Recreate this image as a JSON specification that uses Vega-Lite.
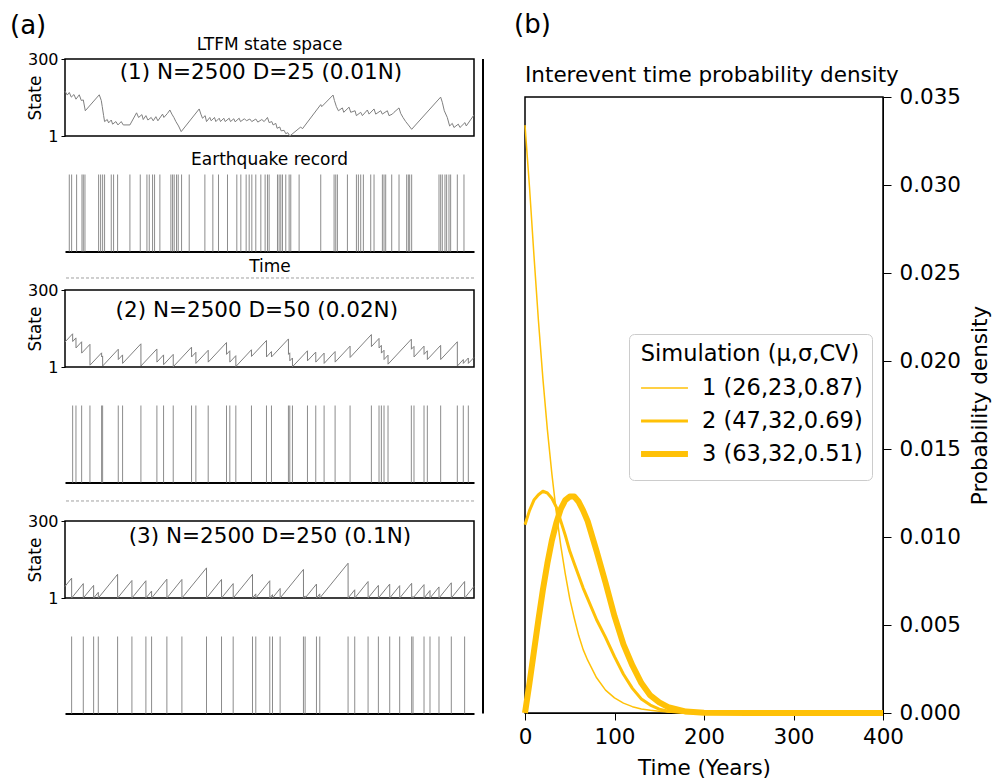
{
"$schema": "https://vega.github.io/schema/vega-lite/v6.json",
"padding": {"left": 10, "top": 12, "right": 0, "bottom": 0},
"background": "white",
"config": {
  "font": "DejaVu Sans",
  "view": {"stroke": "black", "strokeWidth": 1.5},
  "axis": {"grid": false, "domainColor": "black", "tickColor": "black", "labelColor": "black", "titleColor": "black", "titleFontWeight": "normal", "labelFlush": false, "labelOverlap": false},
  "title": {"fontWeight": "normal", "color": "black"}
},
"datasets": {
  "s1": [{"t":0,"v":175},{"t":5.6,"v":160},{"t":10.5,"v":170},{"t":15.4,"v":152},{"t":21.9,"v":162},{"t":26.8,"v":144},{"t":34.9,"v":161},{"t":39.8,"v":139},{"t":44.7,"v":141},{"t":49.6,"v":99},{"t":83.8,"v":161},{"t":88.7,"v":139},{"t":91.1,"v":115},{"t":94.4,"v":80},{"t":96.8,"v":57},{"t":103.3,"v":65},{"t":106.6,"v":52},{"t":113.1,"v":63},{"t":116.4,"v":47},{"t":124.5,"v":57},{"t":129.4,"v":44},{"t":137.5,"v":57},{"t":142.4,"v":44},{"t":158.7,"v":44},{"t":175,"v":91},{"t":179.9,"v":73},{"t":188,"v":84},{"t":191.3,"v":65},{"t":197.8,"v":80},{"t":202.7,"v":63},{"t":210.8,"v":73},{"t":215.7,"v":60},{"t":222.2,"v":76},{"t":227.1,"v":60},{"t":238.5,"v":86},{"t":241.8,"v":73},{"t":250.7,"v":89},{"t":256.4,"v":102},{"t":261.3,"v":86},{"t":266.2,"v":73},{"t":271.1,"v":57},{"t":277.6,"v":40},{"t":284.1,"v":18},{"t":328.1,"v":106},{"t":332.2,"v":86},{"t":336.2,"v":70},{"t":342.7,"v":80},{"t":346,"v":57},{"t":354.1,"v":73},{"t":357.4,"v":60},{"t":365.5,"v":73},{"t":368.8,"v":57},{"t":377,"v":70},{"t":380.2,"v":57},{"t":388.3,"v":70},{"t":391.6,"v":57},{"t":401.4,"v":70},{"t":404.6,"v":57},{"t":412.8,"v":68},{"t":416,"v":56},{"t":425.8,"v":70},{"t":429.1,"v":57},{"t":438.8,"v":68},{"t":443.7,"v":60},{"t":451.9,"v":67},{"t":456.7,"v":57},{"t":466.5,"v":67},{"t":471.4,"v":55},{"t":481.2,"v":65},{"t":486.9,"v":57},{"t":495,"v":73},{"t":499.1,"v":53},{"t":505.6,"v":57},{"t":508.9,"v":44},{"t":515.4,"v":50},{"t":518.6,"v":31},{"t":525.1,"v":36},{"t":528.4,"v":21},{"t":535.7,"v":23},{"t":539.8,"v":10},{"t":544.7,"v":14},{"t":549.6,"v":1},{"t":576.4,"v":36},{"t":580.5,"v":29},{"t":625.3,"v":123},{"t":627.7,"v":115},{"t":655.4,"v":160},{"t":658.7,"v":139},{"t":663.6,"v":115},{"t":668.5,"v":99},{"t":678.2,"v":110},{"t":681.5,"v":93},{"t":694.5,"v":113},{"t":698.6,"v":93},{"t":709.2,"v":99},{"t":712.4,"v":80},{"t":723,"v":93},{"t":727.1,"v":80},{"t":739.3,"v":102},{"t":743.4,"v":86},{"t":755.6,"v":106},{"t":759.7,"v":86},{"t":771.9,"v":99},{"t":775.9,"v":86},{"t":788.2,"v":99},{"t":792.2,"v":80},{"t":800.4,"v":86},{"t":804.4,"v":93},{"t":816.7,"v":110},{"t":820.7,"v":89},{"t":826.4,"v":73},{"t":833,"v":57},{"t":839.5,"v":44},{"t":847.6,"v":27},{"t":918.4,"v":152},{"t":922.5,"v":132},{"t":927.4,"v":99},{"t":934.7,"v":73},{"t":940.4,"v":40},{"t":946.9,"v":50},{"t":951,"v":34},{"t":961.6,"v":47},{"t":965.7,"v":34},{"t":977.9,"v":53},{"t":981.1,"v":40},{"t":1000,"v":83}],
  "s2": [{"t":0,"v":98},{"t":18.7,"v":130},{"t":18.8,"v":100},{"t":26.8,"v":114},{"t":26.9,"v":75},{"t":40.7,"v":99},{"t":40.8,"v":55},{"t":61,"v":89},{"t":61.1,"v":8},{"t":89.5,"v":56},{"t":89.6,"v":40},{"t":92,"v":44},{"t":92.1,"v":5},{"t":130.2,"v":70},{"t":130.3,"v":30},{"t":140.8,"v":48},{"t":140.9,"v":15},{"t":185.6,"v":91},{"t":185.7,"v":5},{"t":224.7,"v":71},{"t":224.8,"v":20},{"t":241,"v":48},{"t":241.1,"v":10},{"t":264.6,"v":50},{"t":264.7,"v":2},{"t":309.4,"v":78},{"t":309.5,"v":40},{"t":320,"v":58},{"t":320.1,"v":15},{"t":350.1,"v":66},{"t":350.2,"v":20},{"t":394.9,"v":96},{"t":395,"v":50},{"t":403,"v":64},{"t":403.1,"v":20},{"t":417.7,"v":45},{"t":417.8,"v":3},{"t":455.9,"v":68},{"t":456,"v":42},{"t":492.6,"v":104},{"t":492.7,"v":40},{"t":504.8,"v":61},{"t":504.9,"v":40},{"t":546.3,"v":110},{"t":546.4,"v":50},{"t":549.6,"v":56},{"t":549.7,"v":25},{"t":556.1,"v":36},{"t":556.2,"v":2},{"t":592.8,"v":64},{"t":592.9,"v":25},{"t":613.1,"v":59},{"t":613.2,"v":20},{"t":633.5,"v":55},{"t":633.6,"v":15},{"t":660.4,"v":61},{"t":660.5,"v":20},{"t":697,"v":82},{"t":697.1,"v":38},{"t":749.1,"v":127},{"t":749.2,"v":80},{"t":767.8,"v":112},{"t":767.9,"v":75},{"t":773.5,"v":85},{"t":773.6,"v":55},{"t":780,"v":66},{"t":780.1,"v":30},{"t":789.8,"v":47},{"t":789.9,"v":12},{"t":846.8,"v":109},{"t":846.9,"v":70},{"t":853.3,"v":81},{"t":853.4,"v":40},{"t":877.8,"v":82},{"t":877.9,"v":50},{"t":885.9,"v":64},{"t":886,"v":30},{"t":918.5,"v":85},{"t":918.6,"v":30},{"t":959.2,"v":99},{"t":959.3,"v":5},{"t":973.8,"v":30},{"t":973.9,"v":15},{"t":986.1,"v":36},{"t":986.2,"v":15},{"t":1000,"v":38}],
  "s3": [{"t":0,"v":46},{"t":16.2,"v":78},{"t":16.3,"v":1},{"t":44.7,"v":57},{"t":44.8,"v":1},{"t":70,"v":50},{"t":70.1,"v":1},{"t":81.4,"v":23},{"t":81.5,"v":1},{"t":128.6,"v":93},{"t":128.7,"v":1},{"t":163.6,"v":69},{"t":163.7,"v":1},{"t":197.8,"v":68},{"t":197.9,"v":1},{"t":211.7,"v":28},{"t":211.8,"v":1},{"t":249.1,"v":74},{"t":249.2,"v":1},{"t":285.8,"v":73},{"t":285.9,"v":1},{"t":346,"v":118},{"t":346.1,"v":1},{"t":382.7,"v":73},{"t":382.8,"v":1},{"t":411.2,"v":57},{"t":411.3,"v":1},{"t":458.4,"v":93},{"t":458.5,"v":1},{"t":466.5,"v":17},{"t":466.6,"v":1},{"t":500.7,"v":68},{"t":500.8,"v":1},{"t":507.3,"v":14},{"t":507.4,"v":1},{"t":526,"v":38},{"t":526.1,"v":1},{"t":583,"v":112},{"t":583.1,"v":1},{"t":587.1,"v":9},{"t":587.2,"v":1},{"t":614.8,"v":55},{"t":614.9,"v":1},{"t":622.9,"v":17},{"t":623,"v":1},{"t":692.1,"v":136},{"t":692.2,"v":1},{"t":708.4,"v":33},{"t":708.5,"v":1},{"t":741,"v":65},{"t":741.1,"v":1},{"t":766.2,"v":50},{"t":766.3,"v":1},{"t":793.9,"v":55},{"t":794,"v":1},{"t":818.3,"v":49},{"t":818.4,"v":1},{"t":847.6,"v":58},{"t":847.7,"v":1},{"t":850.9,"v":7},{"t":851,"v":1},{"t":877.8,"v":53},{"t":877.9,"v":1},{"t":892.4,"v":30},{"t":892.5,"v":1},{"t":914.4,"v":44},{"t":914.5,"v":1},{"t":944.5,"v":60},{"t":944.6,"v":1},{"t":977.1,"v":65},{"t":977.2,"v":1},{"t":1000,"v":46}],
  "e1": [{"t":10.5},{"t":16.2},{"t":28.4},{"t":41.5},{"t":44.7},{"t":48.8},{"t":82.2},{"t":87.1},{"t":92},{"t":96.8},{"t":113.1},{"t":118.8},{"t":128.6},{"t":158.7},{"t":184},{"t":200.3},{"t":206},{"t":214.1},{"t":219},{"t":232},{"t":258.9},{"t":263},{"t":267},{"t":272.7},{"t":276.8},{"t":285},{"t":303.7},{"t":342},{"t":361.5},{"t":375.3},{"t":397.3},{"t":420.1},{"t":429.9},{"t":442.9},{"t":450.3},{"t":456.8},{"t":466.5},{"t":478.8},{"t":489.3},{"t":495},{"t":499.1},{"t":519.5},{"t":523.5},{"t":527.6},{"t":531.7},{"t":539.8},{"t":548},{"t":552},{"t":572.4},{"t":625.3},{"t":657.9},{"t":662},{"t":666},{"t":690.5},{"t":712.5},{"t":717.3},{"t":723},{"t":729.5},{"t":747.5},{"t":755.6},{"t":776},{"t":780},{"t":784.1},{"t":798.8},{"t":816.7},{"t":835.4},{"t":839.5},{"t":842.7},{"t":847.6},{"t":914.4},{"t":918.5},{"t":922.5},{"t":929},{"t":933.1},{"t":938.8},{"t":942.9},{"t":959.2},{"t":975.5}],
  "e2": [{"t":18.7},{"t":26.8},{"t":40.7},{"t":61},{"t":89.5},{"t":92},{"t":130.2},{"t":140.8},{"t":185.6},{"t":224.7},{"t":241},{"t":264.6},{"t":309.4},{"t":320},{"t":350.1},{"t":394.9},{"t":403},{"t":417.7},{"t":455.9},{"t":492.6},{"t":504.8},{"t":546.3},{"t":549.6},{"t":556.1},{"t":592.8},{"t":613.1},{"t":633.5},{"t":660.4},{"t":697},{"t":749.1},{"t":767.8},{"t":773.5},{"t":780},{"t":789.8},{"t":846.8},{"t":853.3},{"t":877.8},{"t":885.9},{"t":918.5},{"t":959.2},{"t":973.8},{"t":986.1}],
  "e3": [{"t":16.2},{"t":44.7},{"t":70},{"t":81.4},{"t":128.6},{"t":163.6},{"t":197.8},{"t":211.7},{"t":249.1},{"t":285.8},{"t":346},{"t":382.7},{"t":411.2},{"t":458.4},{"t":466.5},{"t":500.7},{"t":507.3},{"t":526},{"t":583},{"t":587.1},{"t":614.8},{"t":622.9},{"t":692.1},{"t":708.4},{"t":741},{"t":766.2},{"t":793.9},{"t":818.3},{"t":847.6},{"t":850.9},{"t":877.8},{"t":892.4},{"t":914.4},{"t":944.5},{"t":977.1}],
  "pdf": [
    {"s":"1 (26,23,0.87)","t":0,"d":0.0334},{"s":"1 (26,23,0.87)","t":5,"d":0.0299},{"s":"1 (26,23,0.87)","t":10,"d":0.0260},{"s":"1 (26,23,0.87)","t":15,"d":0.0223},{"s":"1 (26,23,0.87)","t":20,"d":0.0190},{"s":"1 (26,23,0.87)","t":25,"d":0.0161},{"s":"1 (26,23,0.87)","t":30,"d":0.0136},{"s":"1 (26,23,0.87)","t":35,"d":0.0114},{"s":"1 (26,23,0.87)","t":40,"d":0.0095},{"s":"1 (26,23,0.87)","t":45,"d":0.0079},{"s":"1 (26,23,0.87)","t":50,"d":0.0065},{"s":"1 (26,23,0.87)","t":55,"d":0.0054},{"s":"1 (26,23,0.87)","t":60,"d":0.0044},{"s":"1 (26,23,0.87)","t":65,"d":0.0036},{"s":"1 (26,23,0.87)","t":70,"d":0.0030},{"s":"1 (26,23,0.87)","t":80,"d":0.0020},{"s":"1 (26,23,0.87)","t":90,"d":0.0013},{"s":"1 (26,23,0.87)","t":100,"d":0.00086},{"s":"1 (26,23,0.87)","t":110,"d":0.00056},{"s":"1 (26,23,0.87)","t":120,"d":0.00036},{"s":"1 (26,23,0.87)","t":130,"d":0.00023},{"s":"1 (26,23,0.87)","t":140,"d":0.00015},{"s":"1 (26,23,0.87)","t":150,"d":0.0001},{"s":"1 (26,23,0.87)","t":160,"d":0.00006},{"s":"1 (26,23,0.87)","t":180,"d":0.00002},{"s":"1 (26,23,0.87)","t":200,"d":0.00001},{"s":"1 (26,23,0.87)","t":250,"d":0},{"s":"1 (26,23,0.87)","t":300,"d":0},{"s":"1 (26,23,0.87)","t":400,"d":0},
    {"s":"2 (47,32,0.69)","t":0,"d":0.0107},{"s":"2 (47,32,0.69)","t":5,"d":0.0115},{"s":"2 (47,32,0.69)","t":10,"d":0.0121},{"s":"2 (47,32,0.69)","t":15,"d":0.0124},{"s":"2 (47,32,0.69)","t":20,"d":0.0126},{"s":"2 (47,32,0.69)","t":25,"d":0.0125},{"s":"2 (47,32,0.69)","t":30,"d":0.0122},{"s":"2 (47,32,0.69)","t":35,"d":0.0117},{"s":"2 (47,32,0.69)","t":40,"d":0.0109},{"s":"2 (47,32,0.69)","t":45,"d":0.0101},{"s":"2 (47,32,0.69)","t":50,"d":0.0092},{"s":"2 (47,32,0.69)","t":55,"d":0.0085},{"s":"2 (47,32,0.69)","t":60,"d":0.0078},{"s":"2 (47,32,0.69)","t":65,"d":0.0071},{"s":"2 (47,32,0.69)","t":70,"d":0.0065},{"s":"2 (47,32,0.69)","t":80,"d":0.0053},{"s":"2 (47,32,0.69)","t":90,"d":0.0043},{"s":"2 (47,32,0.69)","t":100,"d":0.0032},{"s":"2 (47,32,0.69)","t":110,"d":0.0022},{"s":"2 (47,32,0.69)","t":120,"d":0.0014},{"s":"2 (47,32,0.69)","t":130,"d":0.0008},{"s":"2 (47,32,0.69)","t":140,"d":0.00045},{"s":"2 (47,32,0.69)","t":150,"d":0.00022},{"s":"2 (47,32,0.69)","t":160,"d":0.0001},{"s":"2 (47,32,0.69)","t":180,"d":0.00002},{"s":"2 (47,32,0.69)","t":200,"d":0},{"s":"2 (47,32,0.69)","t":250,"d":0},{"s":"2 (47,32,0.69)","t":300,"d":0},{"s":"2 (47,32,0.69)","t":400,"d":0},
    {"s":"3 (63,32,0.51)","t":0,"d":0},{"s":"3 (63,32,0.51)","t":5,"d":0.0017},{"s":"3 (63,32,0.51)","t":10,"d":0.0035},{"s":"3 (63,32,0.51)","t":15,"d":0.0053},{"s":"3 (63,32,0.51)","t":20,"d":0.0070},{"s":"3 (63,32,0.51)","t":25,"d":0.0085},{"s":"3 (63,32,0.51)","t":30,"d":0.0098},{"s":"3 (63,32,0.51)","t":35,"d":0.0108},{"s":"3 (63,32,0.51)","t":40,"d":0.0116},{"s":"3 (63,32,0.51)","t":45,"d":0.0121},{"s":"3 (63,32,0.51)","t":50,"d":0.0123},{"s":"3 (63,32,0.51)","t":55,"d":0.0123},{"s":"3 (63,32,0.51)","t":60,"d":0.0120},{"s":"3 (63,32,0.51)","t":65,"d":0.0115},{"s":"3 (63,32,0.51)","t":70,"d":0.0109},{"s":"3 (63,32,0.51)","t":80,"d":0.0092},{"s":"3 (63,32,0.51)","t":90,"d":0.0074},{"s":"3 (63,32,0.51)","t":100,"d":0.0055},{"s":"3 (63,32,0.51)","t":110,"d":0.0039},{"s":"3 (63,32,0.51)","t":120,"d":0.0027},{"s":"3 (63,32,0.51)","t":130,"d":0.0017},{"s":"3 (63,32,0.51)","t":140,"d":0.0010},{"s":"3 (63,32,0.51)","t":150,"d":0.0006},{"s":"3 (63,32,0.51)","t":160,"d":0.00033},{"s":"3 (63,32,0.51)","t":180,"d":0.00008},{"s":"3 (63,32,0.51)","t":200,"d":0.00002},{"s":"3 (63,32,0.51)","t":250,"d":0},{"s":"3 (63,32,0.51)","t":300,"d":0},{"s":"3 (63,32,0.51)","t":400,"d":0}
  ]
},
"spacing": 4,
"hconcat": [
  {
    "title": {"text": "(a)", "anchor": "start", "frame": "group", "fontSize": 26, "dx": -55, "offset": -4},
    "spacing": 38.5,
    "bounds": "flush",
    "vconcat": [
      {
        "width": 409, "height": 77,
        "title": {"text": "LTFM state space", "fontSize": 17, "anchor": "middle", "frame": "group", "offset": -3},
        "layer": [
          {"data": {"name": "s1"}, "mark": {"type": "line", "color": "#7f7f7f", "strokeWidth": 1},
           "encoding": {
             "x": {"field": "t", "type": "quantitative", "scale": {"domain": [0, 1000], "nice": false, "zero": false}, "axis": null},
             "y": {"field": "v", "type": "quantitative", "scale": {"domain": [1, 300], "nice": false, "zero": false},
                   "axis": {"values": [1, 300], "title": "State", "labelFontSize": 16, "titleFontSize": 17, "tickSize": 4, "labelPadding": 3, "domain": false, "titleX": -30, "titleY": 38.5, "titleBaseline": "middle", "titleAlign": "center"}}
           }},
          {"data": {"values": [{"label": "(1) N=2500 D=25 (0.01N)"}]}, "mark": {"type": "text", "fontSize": 21.5, "color": "black"},
           "encoding": {"x": {"datum": 479}, "y": {"datum": 245}, "text": {"field": "label"}}}
        ]
      },
      {
        "width": 409, "height": 77,
        "view": {"stroke": null},
        "title": {"text": "Earthquake record", "fontSize": 17, "anchor": "middle", "frame": "group", "offset": 5.5},
        "layer": [
          {"data": {"name": "e1"}, "mark": {"type": "rule", "color": "#8c8c8c", "strokeWidth": 1},
           "encoding": {
             "x": {"field": "t", "type": "quantitative", "scale": {"domain": [0, 1000], "nice": false, "zero": false},
                   "axis": {"title": "Time", "titleFontSize": 17, "labels": false, "ticks": false, "domainWidth": 2, "titlePadding": 7}},
             "y": {"datum": 0, "scale": {"domain": [0, 1]}, "axis": null},
             "y2": {"datum": 1}
           }},
          {"data": {"values": [{}]}, "mark": {"type": "rule", "color": "#a0a0a0", "strokeWidth": 1, "strokeDash": [3, 2]},
           "encoding": {"y": {"datum": -0.344}}}
        ]
      },
      {
        "width": 409, "height": 77,
        "layer": [
          {"data": {"name": "s2"}, "mark": {"type": "line", "color": "#7f7f7f", "strokeWidth": 1},
           "encoding": {
             "x": {"field": "t", "type": "quantitative", "scale": {"domain": [0, 1000], "nice": false, "zero": false}, "axis": null},
             "y": {"field": "v", "type": "quantitative", "scale": {"domain": [1, 300], "nice": false, "zero": false},
                   "axis": {"values": [1, 300], "title": "State", "labelFontSize": 16, "titleFontSize": 17, "tickSize": 4, "labelPadding": 3, "domain": false, "titleX": -30, "titleY": 38.5, "titleBaseline": "middle", "titleAlign": "center"}}
           }},
          {"data": {"values": [{"label": "(2) N=2500 D=50 (0.02N)"}]}, "mark": {"type": "text", "fontSize": 21.5, "color": "black"},
           "encoding": {"x": {"datum": 469}, "y": {"datum": 220}, "text": {"field": "label"}}}
        ]
      },
      {
        "width": 409, "height": 77,
        "view": {"stroke": null},
        "layer": [
          {"data": {"name": "e2"}, "mark": {"type": "rule", "color": "#8c8c8c", "strokeWidth": 1},
           "encoding": {
             "x": {"field": "t", "type": "quantitative", "scale": {"domain": [0, 1000], "nice": false, "zero": false},
                   "axis": {"title": null, "labels": false, "ticks": false, "domainWidth": 2}},
             "y": {"datum": 0, "scale": {"domain": [0, 1]}, "axis": null},
             "y2": {"datum": 1}
           }},
          {"data": {"values": [{}]}, "mark": {"type": "rule", "color": "#a0a0a0", "strokeWidth": 1, "strokeDash": [3, 2]},
           "encoding": {"y": {"datum": -0.24}}}
        ]
      },
      {
        "width": 409, "height": 77,
        "layer": [
          {"data": {"name": "s3"}, "mark": {"type": "line", "color": "#7f7f7f", "strokeWidth": 1},
           "encoding": {
             "x": {"field": "t", "type": "quantitative", "scale": {"domain": [0, 1000], "nice": false, "zero": false}, "axis": null},
             "y": {"field": "v", "type": "quantitative", "scale": {"domain": [1, 300], "nice": false, "zero": false},
                   "axis": {"values": [1, 300], "title": "State", "labelFontSize": 16, "titleFontSize": 17, "tickSize": 4, "labelPadding": 3, "domain": false, "titleX": -30, "titleY": 38.5, "titleBaseline": "middle", "titleAlign": "center"}}
           }},
          {"data": {"values": [{"label": "(3) N=2500 D=250 (0.1N)"}]}, "mark": {"type": "text", "fontSize": 21.5, "color": "black"},
           "encoding": {"x": {"datum": 501}, "y": {"datum": 238}, "text": {"field": "label"}}}
        ]
      },
      {
        "width": 409, "height": 77,
        "view": {"stroke": null},
        "data": {"name": "e3"},
        "mark": {"type": "rule", "color": "#8c8c8c", "strokeWidth": 1},
        "encoding": {
          "x": {"field": "t", "type": "quantitative", "scale": {"domain": [0, 1000], "nice": false, "zero": false},
                "axis": {"title": null, "labels": false, "ticks": false, "domainWidth": 2}},
          "y": {"datum": 0, "scale": {"domain": [0, 1]}, "axis": null},
          "y2": {"datum": 1}
        }
      }
    ]
  },
  {
    "width": 29, "height": 654.5,
    "view": {"stroke": null},
    "data": {"values": [{}]},
    "mark": {"type": "rule", "color": "black", "strokeWidth": 2},
    "encoding": {
      "x": {"datum": 2, "scale": {"domain": [0, 29]}, "axis": null},
      "y": {"datum": 0, "scale": {"domain": [0, 1]}, "axis": null},
      "y2": {"datum": 1}
    }
  },
  {
    "title": {"text": "(b)", "anchor": "start", "frame": "group", "fontSize": 26, "dx": -11, "offset": 21},
    "spacing": 37,
    "bounds": "flush",
    "vconcat": [
      {
        "width": 358, "height": 1,
        "view": {"stroke": null},
        "data": {"values": [{}]},
        "mark": {"type": "rule", "opacity": 0},
        "encoding": {
          "x": {"datum": 0, "scale": {"domain": [0, 1]}, "axis": null},
          "x2": {"datum": 1},
          "y": {"datum": 0, "scale": {"domain": [0, 1]}, "axis": null}
        }
      },
      {
        "width": 358, "height": 616,
        "title": {"text": "Interevent time probability density", "fontSize": 21.5, "anchor": "start", "frame": "group", "offset": 0},
        "data": {"name": "pdf"},
        "mark": {"type": "line", "color": "#FFC107", "strokeJoin": "round"},
        "encoding": {
          "x": {"field": "t", "type": "quantitative", "scale": {"domain": [0, 400], "nice": false},
                "axis": {"values": [0, 100, 200, 300, 400], "title": "Time (Years)", "labelFontSize": 21.5, "titleFontSize": 21.5, "tickSize": 7, "labelPadding": 6, "titlePadding": 10}},
          "y": {"field": "d", "type": "quantitative", "scale": {"domain": [0, 0.035], "nice": false},
                "axis": {"orient": "right", "values": [0, 0.005, 0.01, 0.015, 0.02, 0.025, 0.03, 0.035], "format": ".3f", "title": "Probability density", "labelFontSize": 21.5, "titleFontSize": 21.5, "tickSize": 8, "labelPadding": 8, "titlePadding": 9, "titleAngle": 270, "titleBaseline": "top"}},
          "strokeWidth": {"field": "s", "type": "ordinal",
                "scale": {"type": "point", "domain": ["1 (26,23,0.87)", "2 (47,32,0.69)", "_", "3 (63,32,0.51)"], "range": [1.5, 6], "padding": 0},
                "legend": {"values": ["1 (26,23,0.87)", "2 (47,32,0.69)", "3 (63,32,0.51)"], "title": "Simulation (μ,σ,CV)", "orient": "none", "legendX": 564, "legendY": 275, "symbolType": "stroke", "symbolStrokeColor": "#FFC107", "symbolSize": 2200, "clipHeight": 33, "labelFontSize": 22.5, "titleFontSize": 22.5, "titleFontWeight": "normal", "titleLimit": 400, "labelLimit": 400, "padding": 9, "rowPadding": 0, "titlePadding": 6, "fillColor": "white", "strokeColor": "#cccccc", "cornerRadius": 5, "titleAnchor": "middle", "labelOffset": 11, "titleColor": "black", "labelColor": "black"}}
        }
      }
    ]
  }
]
}
